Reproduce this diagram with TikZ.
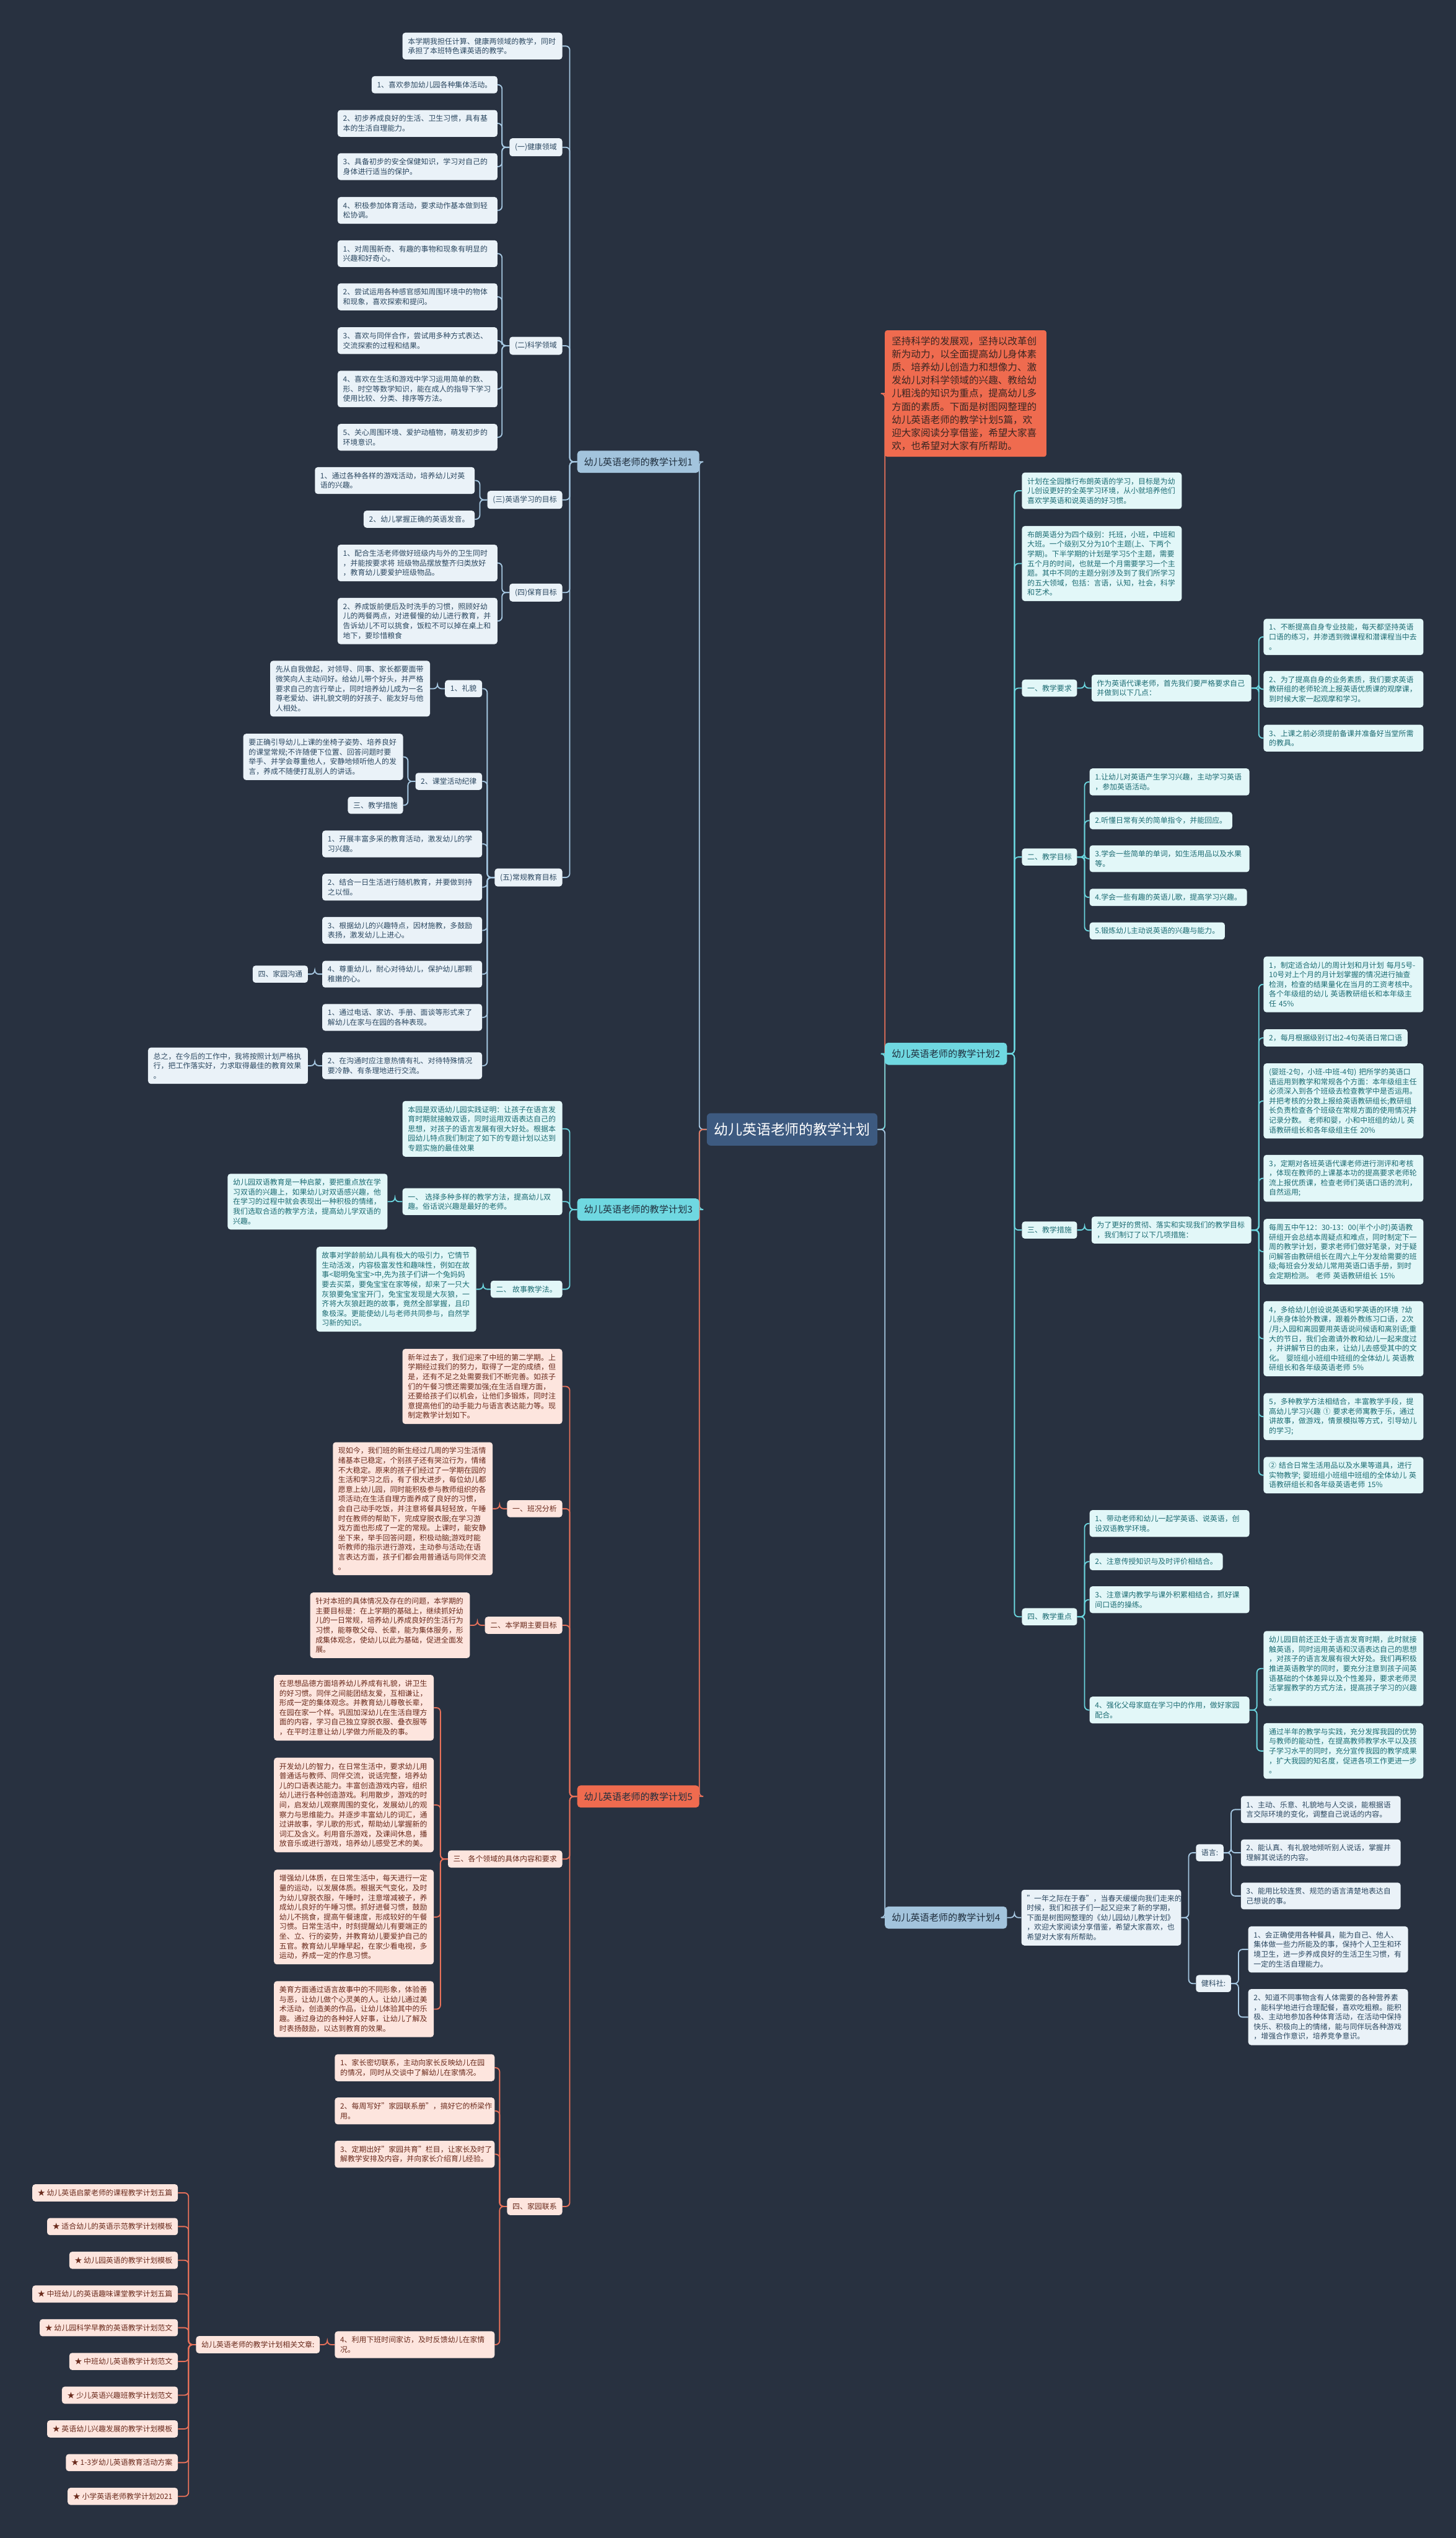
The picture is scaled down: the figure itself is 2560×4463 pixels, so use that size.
\documentclass[tikz,border=0pt]{standalone}
\usepackage{fontspec}
\setmainfont{Noto Sans CJK SC}
\usepackage{tikz}
\usetikzlibrary{positioning}
\pgfdeclarelayer{back}
\pgfdeclarelayer{bg}
\pgfsetlayers{back,bg,main}
\usepackage{xcolor}
\setlength{\parindent}{0pt}
\definecolor{bgc}{HTML}{283140}
\definecolor{rootc}{HTML}{3D5A80}
\definecolor{pnA}{HTML}{A3C4DD}
\definecolor{pnB}{HTML}{6FD8E1}
\definecolor{pnC}{HTML}{EF6B4F}
\definecolor{lfA}{HTML}{EAF2F8}
\definecolor{lfB}{HTML}{E2F7F8}
\definecolor{lfC}{HTML}{FDE5DE}
\definecolor{txA}{HTML}{2C4861}
\definecolor{txB}{HTML}{1C6C73}
\definecolor{txC}{HTML}{6A2A1C}
\definecolor{txP}{HTML}{1F2E3D}
\definecolor{txI}{HTML}{3A2622}
\definecolor{lnAc}{HTML}{A6C8E2}
\definecolor{lnBc}{HTML}{6BD6DF}
\definecolor{lnCc}{HTML}{E8715A}
\newcommand{\linkL}[3]{\foreach \c in {#3} \draw[#1] (#2.west) -- ++(-13,0) |- (\c.east);}
\newcommand{\linkR}[3]{\foreach \c in {#3} \draw[#1] (#2.east) -- ++(13,0) |- (\c.west);}

\begin{document}
\begin{tikzpicture}[
  x=1pt, y=-1pt,
  every node/.style={font=\fontsize{13}{17}\selectfont, align=left, inner xsep=9.5pt, inner ysep=9pt, rounded corners=5pt},
  wide/.style={text width=262pt},
  boxA/.style={fill=lfA, text=txA},
  boxB/.style={fill=lfB, text=txB},
  boxC/.style={fill=lfC, text=txC},
  planA/.style={fill=pnA, text=txP, font=\fontsize{16.5}{20}\selectfont, minimum height=39pt, inner xsep=12pt, inner ysep=3pt, rounded corners=6pt},
  planB/.style={planA, fill=pnB},
  planC/.style={planA, fill=pnC},
  root/.style={fill=rootc, text=white, font=\fontsize{25}{30}\selectfont, minimum height=57pt, inner xsep=12.5pt, inner ysep=3pt, rounded corners=7pt},
  intro/.style={fill=pnC, text=txI, font=\fontsize{17}{23}\selectfont, text width=260pt, inner xsep=12pt, inner ysep=11pt, rounded corners=4pt},
  lnA/.style={draw=lnAc, line width=2pt, rounded corners=7pt},
  lnB/.style={draw=lnBc, line width=2pt, rounded corners=7pt},
  lnC/.style={draw=lnCc, line width=2pt, rounded corners=7pt}
]

\begin{pgfonlayer}{back}
\fill[bgc] (0,0) rectangle (2560,4463);
\end{pgfonlayer}
\useasboundingbox (0,0) rectangle (2560,4463);

\node[root] (cx) at (1393,1986) {幼儿英语老师的教学计划};

\node[planA, anchor=east] (p1) at (1230,812) {幼儿英语老师的教学计划1};
\node[boxA, wide, anchor=east] (p1a) at (989,81) {本学期我担任计算、健康两领域的教学，同时\\承担了本班特色课英语的教学。};
\node[boxA, anchor=east] (hl) at (989,259) {(一)健康领域};
\node[boxA, anchor=east] (h1) at (875,149) {1、喜欢参加幼儿园各种集体活动。};
\node[boxA, wide, anchor=east] (h2) at (875,217) {2、初步养成良好的生活、卫生习惯，具有基\\本的生活自理能力。};
\node[boxA, wide, anchor=east] (h3) at (875,293) {3、具备初步的安全保健知识，学习对自己的\\身体进行适当的保护。};
\node[boxA, wide, anchor=east] (h4) at (875,370) {4、积极参加体育活动，要求动作基本做到轻\\松协调。};
\node[boxA, anchor=east] (sl) at (989,608) {(二)科学领域};
\node[boxA, wide, anchor=east] (s1) at (875,446) {1、对周围新奇、有趣的事物和现象有明显的\\兴趣和好奇心。};
\node[boxA, wide, anchor=east] (s2) at (875,522) {2、尝试运用各种感官感知周围环境中的物体\\和现象，喜欢探索和提问。};
\node[boxA, wide, anchor=east] (s3) at (875,599) {3、喜欢与同伴合作，尝试用多种方式表达、\\交流探索的过程和结果。};
\node[boxA, wide, anchor=east] (s4) at (875,684) {4、喜欢在生活和游戏中学习运用简单的数、\\形、时空等数学知识，能在成人的指导下学习\\使用比较、分类、排序等方法。};
\node[boxA, wide, anchor=east] (s5) at (875,769) {5、关心周围环境、爱护动植物，萌发初步的\\环境意识。};
\node[boxA, anchor=east] (el) at (989,879) {(三)英语学习的目标};
\node[boxA, wide, anchor=east] (e1) at (835,845) {1、通过各种各样的游戏活动，培养幼儿对英\\语的兴趣。};
\node[boxA, anchor=east] (e2) at (835,913) {2、幼儿掌握正确的英语发音。};
\node[boxA, anchor=east] (bl) at (989,1042) {(四)保育目标};
\node[boxA, wide, anchor=east] (b1) at (875,990) {1、配合生活老师做好班级内与外的卫生同时\\，并能按要求将 班级物品摆放整齐归类放好\\，教育幼儿要爱护班级物品。};
\node[boxA, wide, anchor=east] (b2) at (875,1092) {2、养成饭前便后及时洗手的习惯，照顾好幼\\儿的两餐两点，对进餐慢的幼儿进行教育，并\\告诉幼儿不可以挑食，饭粒不可以掉在桌上和\\地下，要珍惜粮食};
\node[boxA, anchor=east] (rl) at (989,1543) {(五)常规教育目标};
\node[boxA, anchor=east] (ly) at (848,1211) {1、礼貌};
\node[boxA, wide, left=26pt of ly] (lyt) {先从自我做起，对领导、同事、家长都要面带\\微笑向人主动问好。给幼儿带个好头，并严格\\要求自己的言行举止，同时培养幼儿成为一名\\尊老爱幼、讲礼貌文明的好孩子、能友好与他\\人相处。};
\node[boxA, anchor=east] (jl) at (848,1374) {2、课堂活动纪律};
\node[boxA, wide, anchor=east] (jlt) at (709,1331) {要正确引导幼儿上课的坐椅子姿势、培养良好\\的课堂常规;不许随便下位置、回答问题时要\\举手、并学会尊重他人，安静地倾听他人的发\\言，养成不随便打乱别人的讲话。};
\node[boxA, anchor=east] (cs) at (709,1416) {三、教学措施};
\node[boxA, wide, anchor=east] (r1) at (848,1484) {1、开展丰富多采的教育活动，激发幼儿的学\\习兴趣。};
\node[boxA, wide, anchor=east] (r2) at (848,1560) {2、结合一日生活进行随机教育，并要做到持\\之以恒。};
\node[boxA, wide, anchor=east] (r3) at (848,1636) {3、根据幼儿的兴趣特点，因材施教，多鼓励\\表扬，激发幼儿上进心。};
\node[boxA, wide, anchor=east] (r4) at (848,1713) {4、尊重幼儿，耐心对待幼儿，保护幼儿那颗\\稚嫩的心。};
\node[boxA, wide, anchor=east] (r5) at (848,1789) {1、通过电话、家访、手册、面谈等形式来了\\解幼儿在家与在园的各种表现。};
\node[boxA, wide, anchor=east] (r6) at (848,1874) {2、在沟通时应注意热情有礼、对待特殊情况\\要冷静、有条理地进行交流。};
\node[boxA, left=25pt of r4] (jg) {四、家园沟通};
\node[boxA, wide, left=25pt of r6] (zz) {总之，在今后的工作中，我将按照计划严格执\\行，把工作落实好，力求取得最佳的教育效果\\。};

\node[planB, anchor=east] (p3) at (1230,2127) {幼儿英语老师的教学计划3};
\node[boxB, wide, anchor=east] (p3a) at (989,1985) {本园是双语幼儿园实践证明：让孩子在语言发\\育时期就接触双语，同时运用双语表达自己的\\思想，对孩子的语言发展有很大好处。根据本\\园幼儿特点我们制定了如下的专题计划以达到\\专题实施的最佳效果};
\node[boxB, wide, anchor=east] (xz) at (989,2113) {一、 选择多种多样的教学方法，提高幼儿双\\趣。俗话说兴趣是最好的老师。};
\node[boxB, wide, left=26pt of xz] (xzt) {幼儿园双语教育是一种启蒙，要把重点放在学\\习双语的兴趣上，如果幼儿对双语感兴趣，他\\在学习的过程中就会表现出一种积极的情绪，\\我们选取合适的教学方法，提高幼儿学双语的\\兴趣。};
\node[boxB, anchor=east] (gs) at (989,2267) {二、 故事教学法。};
\node[boxB, wide, left=25pt of gs] (gst) {故事对学龄前幼儿具有极大的吸引力，它情节\\生动活泼，内容极富发性和趣味性，例如在故\\事<聪明兔宝宝>中,先为孩子们讲一个兔妈妈\\要去买菜，要兔宝宝在家等候，却来了一只大\\灰狼要兔宝宝开门，免宝宝发现是大灰狼，一\\齐将大灰狼赶跑的故事，竟然全部掌握，且印\\象极深。更能使幼儿与老师共同参与，自然学\\习新的知识。};

\node[planC, anchor=east] (p5) at (1230,3159) {幼儿英语老师的教学计划5};
\node[boxC, wide, anchor=east] (p5a) at (989,2438) {新年过去了，我们迎来了中班的第二学期。上\\学期经过我们的努力，取得了一定的成绩，但\\是，还有不足之处需要我们不断完善。如孩子\\们的午餐习惯还需要加强;在生活自理方面，\\还要给孩子们以机会，让他们多锻炼，同时注\\意提高他们的动手能力与语言表达能力等。现\\制定教学计划如下。};
\node[boxC, anchor=east] (bk) at (989,2653) {一、班况分析};
\node[boxC, wide, left=25pt of bk] (bkt) {现如今，我们班的新生经过几周的学习生活情\\绪基本已稳定，个别孩子还有哭泣行为，情绪\\不大稳定。原来的孩子们经过了一学期在园的\\生活和学习之后，有了很大进步，每位幼儿都\\愿意上幼儿园，同时能积极参与教师组织的各\\项活动;在生活自理方面养成了良好的习惯，\\会自己动手吃饭，并注意将餐具轻轻放，午睡\\时在教师的帮助下，完成穿脱衣服;在学习游\\戏方面也形成了一定的常规。上课时，能安静\\坐下来，举手回答问题，积极动脑;游戏时能\\听教师的指示进行游戏，主动参与活动;在语\\言表达方面，孩子们都会用普通话与同伴交流\\。};
\node[boxC, anchor=east] (mb) at (989,2858) {二、本学期主要目标};
\node[boxC, wide, left=26pt of mb] (mbt) {针对本班的具体情况及存在的问题，本学期的\\主要目标是：在上学期的基础上，继续抓好幼\\儿的一日常规，培养幼儿养成良好的生活行为\\习惯，能尊敬父母、长辈，能为集体服务，形\\成集体观念，使幼儿以此为基础，促进全面发\\展。};
\node[boxC, anchor=east] (lys) at (989,3269) {三、各个领域的具体内容和要求};
\node[boxC, wide, anchor=east] (d1) at (763,3003) {在思想品德方面培养幼儿养成有礼貌，讲卫生\\的好习惯。同伴之间能团结友爱，互相谦让，\\形成一定的集体观念。并教育幼儿尊敬长辈，\\在园在家一个样。巩固加深幼儿在生活自理方\\面的内容，学习自己独立穿脱衣服、叠衣服等\\，在平时注意让幼儿学做力所能及的事。};
\node[boxC, wide, anchor=east] (d2) at (763,3174) {开发幼儿的智力，在日常生活中，要求幼儿用\\普通话与教师、同伴交流，说话完整，培养幼\\儿的口语表达能力。丰富创造游戏内容，组织\\幼儿进行各种创造游戏。利用散步，游戏的时\\间，启发幼儿观察周围的变化，发展幼儿的观\\察力与思维能力。并逐步丰富幼儿的词汇，通\\过讲故事，学儿歌的形式，帮助幼儿掌握新的\\词汇及含义。利用音乐游戏，及课间休息，播\\放音乐或进行游戏，培养幼儿感受艺术的美。};
\node[boxC, wide, anchor=east] (d3) at (763,3371) {增强幼儿体质，在日常生活中，每天进行一定\\量的运动，以发展体质。根据天气变化，及时\\为幼儿穿脱衣服，午睡时，注意增减被子，养\\成幼儿良好的午睡习惯。抓好进餐习惯，鼓励\\幼儿不挑食，提高午餐速度，形成较好的午餐\\习惯。日常生活中，时刻提醒幼儿有要端正的\\坐、立、行的姿势，并教育幼儿要爱护自己的\\五官。教育幼儿早睡早起，在家少看电视，多\\运动，养成一定的作息习惯。};
\node[boxC, wide, anchor=east] (d4) at (763,3533) {美育方面通过语言故事中的不同形象，体验善\\与恶，让幼儿做个心灵美的人。让幼儿通过美\\术活动，创造美的作品，让幼儿体验其中的乐\\趣。通过身边的各种好人好事，让幼儿了解及\\时表扬鼓励，以达到教育的效果。};
\node[boxC, anchor=east] (jy) at (989,3880) {四、家园联系};
\node[boxC, wide, anchor=east] (j1) at (870,3636) {1、家长密切联系，主动向家长反映幼儿在园\\的情况，同时从交谈中了解幼儿在家情况。};
\node[boxC, wide, anchor=east] (j2) at (870,3712) {2、每周写好"家园联系册"，搞好它的桥梁作\\用。};
\node[boxC, wide, anchor=east] (j3) at (870,3788) {3、定期出好"家园共育"栏目，让家长及时了\\解教学安排及内容，并向家长介绍育儿经验。};
\node[boxC, wide, anchor=east] (j4) at (870,4123) {4、利用下班时间家访，及时反馈幼儿在家情\\况。};
\node[boxC, left=26pt of j4] (xg) {幼儿英语老师的教学计划相关文章:};
\foreach \t [count=\i from 0] in {幼儿英语启蒙老师的课程教学计划五篇, 适合幼儿的英语示范教学计划模板, 幼儿园英语的教学计划模板, 中班幼儿的英语趣味课堂教学计划五篇, 幼儿园科学早教的英语教学计划范文, 中班幼儿英语教学计划范文, 少儿英语兴趣班教学计划范文, 英语幼儿兴趣发展的教学计划模板, 1-3岁幼儿英语教育活动方案, 小学英语老师教学计划2021}
  \node[boxC, anchor=east] (a\i) at (313,{3856+59.3*\i}) {★ \t};

\node[intro, anchor=west] (oa) at (1556,692) {坚持科学的发展观，坚持以改革创\\新为动力，以全面提高幼儿身体素\\质、培养幼儿创造力和想像力、激\\发幼儿对科学领域的兴趣、教给幼\\儿粗浅的知识为重点，提高幼儿多\\方面的素质。下面是树图网整理的\\幼儿英语老师的教学计划5篇，欢\\迎大家阅读分享借鉴，希望大家喜\\欢，也希望对大家有所帮助。};

\node[planB, anchor=west] (p2) at (1556,1853) {幼儿英语老师的教学计划2};
\node[boxB, wide, anchor=west] (t1) at (1797,863) {计划在全园推行布朗英语的学习，目标是为幼\\儿创设更好的全英学习环境，从小就培养他们\\喜欢学英语和说英语的好习惯。};
\node[boxB, wide, anchor=west] (t2) at (1797,991) {布朗英语分为四个级别：托班，小班，中班和\\大班。一个级别又分为10个主题(上、下两个\\学期)。下半学期的计划是学习5个主题，需要\\五个月的时间，也就是一个月需要学习一个主\\题。其中不同的主题分别涉及到了我们所学习\\的五大领域，包括：言语，认知，社会，科学\\和艺术。};
\node[boxB, anchor=west] (yq) at (1797,1210) {一、教学要求};
\node[boxB, wide, right=25pt of yq] (yqt) {作为英语代课老师，首先我们要严格要求自己\\并做到以下几点：};
\node[boxB, wide, anchor=west] (q1) at (2222,1120) {1、不断提高自身专业技能，每天都坚持英语\\口语的练习，并渗透到微课程和潜课程当中去\\。};
\node[boxB, wide, anchor=west] (q2) at (2222,1212) {2、为了提高自身的业务素质，我们要求英语\\教研组的老师轮流上报英语优质课的观摩课，\\到时候大家一起观摩和学习。};
\node[boxB, wide, anchor=west] (q3) at (2222,1298) {3、上课之前必须提前备课并准备好当堂所需\\的教具。};
\node[boxB, anchor=west] (mu) at (1797,1507) {二、教学目标};
\node[boxB, wide, anchor=west] (g1) at (1916,1375) {1.让幼儿对英语产生学习兴趣，主动学习英语\\，参加英语活动。};
\node[boxB, anchor=west] (g2) at (1916,1443) {2.听懂日常有关的简单指令，并能回应。};
\node[boxB, wide, anchor=west] (g3) at (1916,1510) {3.学会一些简单的单词，如生活用品以及水果\\等。};
\node[boxB, anchor=west] (g4) at (1916,1578) {4.学会一些有趣的英语儿歌，提高学习兴趣。};
\node[boxB, anchor=west] (g5) at (1916,1637) {5.锻炼幼儿主动说英语的兴趣与能力。};
\node[boxB, anchor=west] (cs2) at (1797,2163) {三、教学措施};
\node[boxB, wide, right=25pt of cs2] (cst) {为了更好的贯彻、落实和实现我们的教学目标\\，我们制订了以下几项措施：};
\node[boxB, wide, anchor=west] (m1) at (2222,1731) {1，制定适合幼儿的周计划和月计划 每月5号-\\10号对上个月的月计划掌握的情况进行抽查\\检测，检查的结果量化在当月的工资考核中。\\ 各个年级组的幼儿 英语教研组长和本年级主\\任 45\%};
\node[boxB, anchor=west] (m2) at (2222,1825) {2，每月根据级别订出2-4句英语日常口语};
\node[boxB, wide, anchor=west] (m3) at (2222,1936) {(婴班-2句，小班-中班-4句) 把所学的英语口\\语运用到教学和常规各个方面：本年级组主任\\必须深入到各个班级去检查教学中是否运用。\\并把考核的分数上报给英语教研组长;教研组\\长负责检查各个班级在常规方面的使用情况并\\记录分数。 老师和婴，小和中班组的幼儿 英\\语教研组长和各年级组主任 20\%};
\node[boxB, wide, anchor=west] (m4) at (2222,2072) {3，定期对各班英语代课老师进行测评和考核\\，体现在教师的上课基本功的提高要求老师轮\\流上报优质课，检查老师们英语口语的流利，\\自然运用;};
\node[boxB, wide, anchor=west] (m5) at (2222,2201) {每周五中午12：30-13：00(半个小时)英语教\\研组开会总结本周疑点和难点，同时制定下一\\周的教学计划，要求老师们做好笔录，对于疑\\问解答由教研组长在周六上午分发给需要的班\\级;每班会分发幼儿常用英语口语手册，到时\\会定期检测。 老师 英语教研组长 15\%};
\node[boxB, wide, anchor=west] (m6) at (2222,2354) {4，多给幼儿创设说英语和学英语的环境 ?幼\\儿亲身体验外教课，跟着外教练习口语，2次\\/月;入园和离园要用英语说问候语和离别语;重\\大的节日，我们会邀请外教和幼儿一起来度过\\，并讲解节日的由来，让幼儿去感受其中的文\\化。 婴班组小班组中班组的全体幼儿 英语教\\研组长和各年级英语老师 5\%};
\node[boxB, wide, anchor=west] (m7) at (2222,2491) {5，多种教学方法相结合，丰富教学手段，提\\高幼儿学习兴趣 ① 要求老师寓教于乐，通过\\讲故事，做游戏，情景模拟等方式，引导幼儿\\的学习;};
\node[boxB, wide, anchor=west] (m8) at (2222,2594) {② 结合日常生活用品以及水果等道具，进行\\实物教学; 婴班组小班组中班组的全体幼儿 英\\语教研组长和各年级英语老师 15\%};
\node[boxB, anchor=west] (zd) at (1797,2843) {四、教学重点};
\node[boxB, wide, anchor=west] (k1) at (1916,2679) {1、带动老师和幼儿一起学英语、说英语，创\\设双语教学环境。};
\node[boxB, anchor=west] (k2) at (1916,2746) {2、注意传授知识与及时评价相结合。};
\node[boxB, wide, anchor=west] (k3) at (1916,2813) {3、注意课内教学与课外积累相结合，抓好课\\间口语的操练。};
\node[boxB, wide, anchor=west] (k4) at (1916,3007) {4、强化父母家庭在学习中的作用，做好家园\\配合。};
\node[boxB, wide, anchor=west] (l1) at (2222,2934) {幼儿园目前还正处于语言发育时期，此时就接\\触英语，同时运用英语和汉语表达自己的思想\\，对孩子的语言发展有很大好处。我们再积极\\推进英语教学的同时，要充分注意到孩子间英\\语基础的个体差异以及个性差异，要求老师灵\\活掌握教学的方式方法，提高孩子学习的兴趣\\。};
\node[boxB, wide, anchor=west] (l2) at (2222,3079) {通过半年的教学与实践，充分发挥我园的优势\\与教师的能动性，在提高教师教学水平以及孩\\子学习水平的同时，充分宣传我园的教学成果\\，扩大我园的知名度，促进各项工作更进一步\\。};

\node[planA, anchor=west] (p4) at (1556,3372) {幼儿英语老师的教学计划4};
\node[boxA, wide, right=25pt of p4] (p4a) {"一年之际在于春"，当春天缓缓向我们走来的\\时候，我们和孩子们一起又迎来了新的学期，\\下面是树图网整理的《幼儿园幼儿教学计划》\\，欢迎大家阅读分享借鉴，希望大家喜欢，也\\希望对大家有所帮助。};
\node[boxA, anchor=west] (yy) at (2103,3258) {语言:};
\node[boxA, wide, anchor=west] (y1) at (2182,3182) {1、主动、乐意、礼貌地与人交谈，能根据语\\言交际环境的变化，调整自己说话的内容。};
\node[boxA, wide, anchor=west] (y2) at (2182,3258) {2、能认真、有礼貌地倾听别人说话，掌握并\\理解其说话的内容。};
\node[boxA, wide, anchor=west] (y3) at (2182,3334) {3、能用比较连贯、规范的语言清楚地表达自\\己想说的事。};
\node[boxA, anchor=west] (jk) at (2103,3488) {健科社:};
\node[boxA, wide, anchor=west] (z1) at (2195,3428) {1、会正确使用各种餐具，能为自己、他人、\\集体做一些力所能及的事，保持个人卫生和环\\境卫生，进一步养成良好的生活卫生习惯，有\\一定的生活自理能力。};
\node[boxA, wide, anchor=west] (z2) at (2195,3547) {2、知道不同事物含有人体需要的各种营养素\\，能科学地进行合理配餐，喜欢吃粗粮。能积\\极、主动地参加各种体育活动，在活动中保持\\快乐、积极向上的情绪，能与同伴玩各种游戏\\，增强合作意识，培养竞争意识。};

\begin{pgfonlayer}{bg}
\linkL{lnA}{cx}{p1}
\linkL{lnB}{cx}{p3}
\linkL{lnC}{cx}{p5}
\linkR{lnC}{cx}{oa}
\linkR{lnB}{cx}{p2}
\linkR{lnA}{cx}{p4}
\linkL{lnA}{p1}{p1a,hl,sl,el,bl,rl}
\linkL{lnA}{hl}{h1,h2,h3,h4}
\linkL{lnA}{sl}{s1,s2,s3,s4,s5}
\linkL{lnA}{el}{e1,e2}
\linkL{lnA}{bl}{b1,b2}
\linkL{lnA}{rl}{ly,jl,r1,r2,r3,r4,r5,r6}
\linkL{lnA}{ly}{lyt}
\linkL{lnA}{jl}{jlt,cs}
\linkL{lnA}{r4}{jg}
\linkL{lnA}{r6}{zz}
\linkL{lnB}{p3}{p3a,xz,gs}
\linkL{lnB}{xz}{xzt}
\linkL{lnB}{gs}{gst}
\linkL{lnC}{p5}{p5a,bk,mb,lys,jy}
\linkL{lnC}{bk}{bkt}
\linkL{lnC}{mb}{mbt}
\linkL{lnC}{lys}{d1,d2,d3,d4}
\linkL{lnC}{jy}{j1,j2,j3,j4}
\linkL{lnC}{j4}{xg}
\linkL{lnC}{xg}{a0,a1,a2,a3,a4,a5,a6,a7,a8,a9}
\linkR{lnB}{p2}{t1,t2,yq,mu,cs2,zd}
\linkR{lnB}{yq}{yqt}
\linkR{lnB}{yqt}{q1,q2,q3}
\linkR{lnB}{mu}{g1,g2,g3,g4,g5}
\linkR{lnB}{cs2}{cst}
\linkR{lnB}{cst}{m1,m2,m3,m4,m5,m6,m7,m8}
\linkR{lnB}{zd}{k1,k2,k3,k4}
\linkR{lnB}{k4}{l1,l2}
\linkR{lnA}{p4}{p4a}
\linkR{lnA}{p4a}{yy,jk}
\linkR{lnA}{yy}{y1,y2,y3}
\linkR{lnA}{jk}{z1,z2}
\end{pgfonlayer}

\end{tikzpicture}
\end{document}
